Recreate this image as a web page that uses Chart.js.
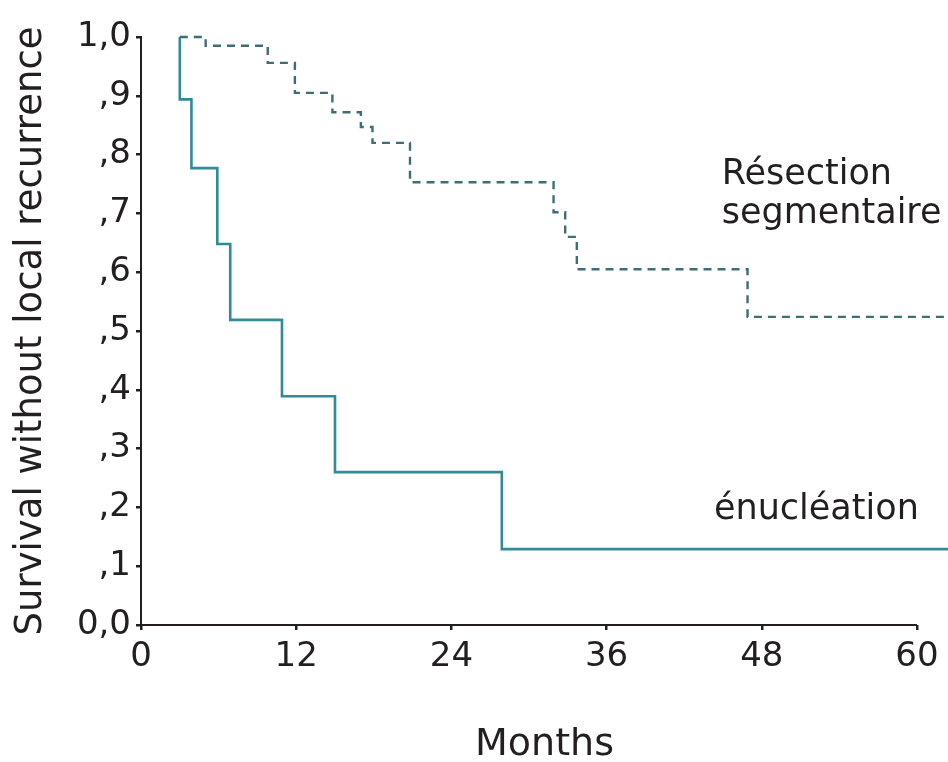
<!DOCTYPE html>
<html>
<head>
<meta charset="utf-8">
<script src="https://cdn.jsdelivr.net/npm/chart.js@4"></script>
<style>
html,body{margin:0;padding:0;background:#fff;}
#wrap{width:948px;height:762px;}
</style>
</head>
<body>
<div id="wrap"><canvas id="c" width="948" height="762"></canvas></div>
<script>
// ---- data ----
const enucMonths = [3.0, 3.0, 3.9, 5.9, 6.9, 10.9, 15.0, 27.9, 62.4];
const enucSurv   = [1.0, 0.894, 0.777, 0.648, 0.519, 0.389, 0.260, 0.129, 0.129];
const resecMonths = [3.0, 5.0, 9.8, 11.9, 14.8, 17.0, 17.9, 20.8, 31.9, 32.8, 33.7, 46.9, 62.4];
const resecSurv   = [1.0, 0.985, 0.956, 0.905, 0.872, 0.847, 0.820, 0.753, 0.702, 0.660, 0.605, 0.524, 0.524];
const xTickValues = [0, 12, 24, 36, 48, 60];
const yTickValues = [0, 0.1, 0.2, 0.3, 0.4, 0.5, 0.6, 0.7, 0.8, 0.9, 1.0];
const yTickLabels = ["0,0", ",1", ",2", ",3", ",4", ",5", ",6", ",7", ",8", ",9", "1,0"];
const seriesNames = ["Résection segmentaire", "énucléation"];
const xTitle = "Months";
const yTitle = "Survival without local recurrence";

const INK = "#231f20";
const FONT = "'DejaVu Sans', 'Liberation Sans', Arial, sans-serif";

const toPts = (xs, ys) => xs.map((x, i) => ({x: x, y: ys[i]}));

const xAxisLine = {
  id: 'xAxisLine',
  afterDatasetsDraw(chart) {
    const {ctx, scales: {x}, chartArea} = chart;
    ctx.save();
    ctx.strokeStyle = INK;
    ctx.lineWidth = 2;
    ctx.beginPath();
    ctx.moveTo(x.getPixelForValue(xTickValues[0]) - 1, chartArea.bottom);
    ctx.lineTo(x.getPixelForValue(xTickValues[xTickValues.length - 1]), chartArea.bottom);
    ctx.stroke();
    ctx.restore();
  }
};

const labelsPlugin = {
  id: 'curveLabels',
  afterDraw(chart) {
    const {ctx, scales: {x, y}} = chart;
    ctx.save();
    ctx.fillStyle = INK;
    ctx.font = "35px " + FONT;
    ctx.textAlign = 'left';
    ctx.textBaseline = 'alphabetic';
    const rx = x.getPixelForValue(44.9);
    ctx.fillText("Résection", rx, y.getPixelForValue(0.750));
    ctx.fillText("segmentaire", rx, y.getPixelForValue(0.683));
    ctx.fillText("énucléation", x.getPixelForValue(44.3), y.getPixelForValue(0.181));
    ctx.restore();
  }
};

new Chart(document.getElementById('c'), {
  type: 'line',
  data: {
    datasets: [
      {
        label: seriesNames[0],
        data: toPts(resecMonths, resecSurv),
        borderColor: '#3e6d74',
        borderWidth: 2.4,
        borderDash: [8, 6],
        stepped: 'before',
        pointRadius: 0,
        fill: false,
        clip: false
      },
      {
        label: seriesNames[1],
        data: toPts(enucMonths, enucSurv),
        borderColor: '#2f8c96',
        borderWidth: 2.6,
        stepped: 'before',
        pointRadius: 0,
        fill: false,
        clip: false
      }
    ]
  },
  options: {
    responsive: false,
    animation: false,
    devicePixelRatio: 1,
    layout: {padding: {top: 37, right: 0, bottom: 0, left: 0}},
    plugins: {legend: {display: false}, tooltip: {enabled: false}},
    scales: {
      x: {
        type: 'linear',
        min: 0,
        max: 62.4,
        afterBuildTicks: s => { s.ticks = xTickValues.map(v => ({value: v})); },
        afterFit: s => { s.height = 137; },
        ticks: {
          color: INK,
          font: {family: FONT, size: 34},
          padding: 7,
          maxRotation: 0,
          autoSkip: false,
          callback: v => String(v)
        },
        grid: {display: true, drawOnChartArea: false, drawTicks: true, tickLength: 5, color: INK, lineWidth: 2.5},
        border: {display: false},
        title: {
          display: true,
          text: xTitle,
          color: INK,
          font: {family: FONT, size: 38, lineHeight: 0.9},
          padding: {top: 0, bottom: 0}
        }
      },
      y: {
        type: 'linear',
        min: 0,
        max: 1,
        afterBuildTicks: s => { s.ticks = yTickValues.map(v => ({value: v})); },
        afterFit: s => { s.width = 141; },
        ticks: {
          color: INK,
          font: {family: FONT, size: 34},
          padding: 5,
          autoSkip: false,
          callback: (v, i) => yTickLabels[i]
        },
        grid: {display: true, drawOnChartArea: false, drawTicks: true, tickLength: 5, color: INK, lineWidth: 2.5},
        border: {display: true, color: INK, width: 2},
        title: {
          display: true,
          text: yTitle,
          color: INK,
          font: {family: FONT, size: 37},
          padding: {top: 9, bottom: 0}
        }
      }
    }
  },
  plugins: [xAxisLine, labelsPlugin]
});
</script>
</body>
</html>
